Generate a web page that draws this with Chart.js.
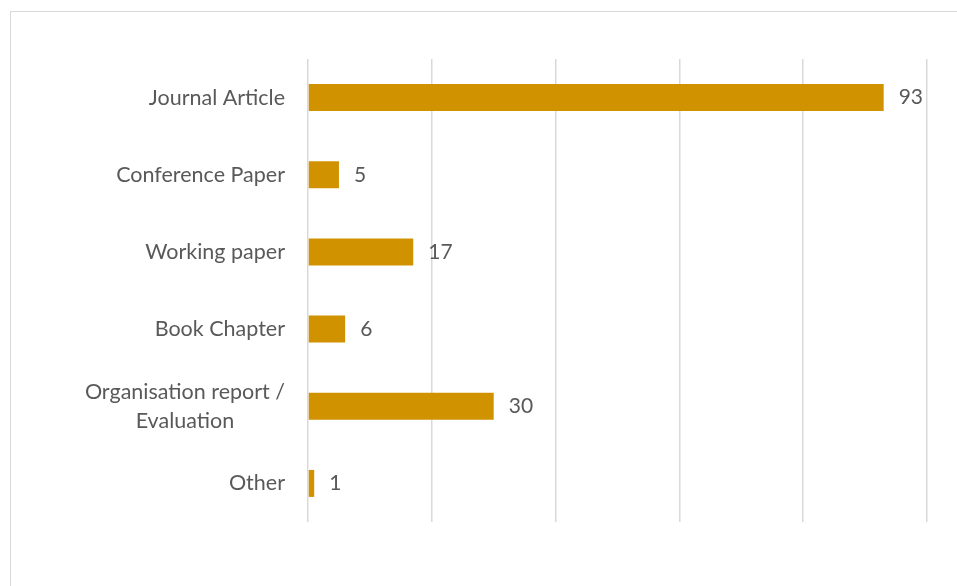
<!DOCTYPE html>
<html>
<head>
<meta charset="utf-8">
<script src="https://cdn.jsdelivr.net/npm/chart.js@4/dist/chart.umd.min.js"></script>
<style>
  html, body { margin: 0; padding: 0; background: #fff; overflow: hidden; }
  #wrap { position: relative; width: 957px; height: 586px; }
  #frame { position: absolute; left: 10px; top: 11px; width: 1000px; height: 700px; border: 1.5px solid #d9d9d9; }
  canvas { position: absolute; left: 0; top: 0; }
</style>
</head>
<body>
<div id="wrap">
  <div id="frame"></div>
  <canvas id="chart" width="957" height="586"></canvas>
</div>
<script>
const categories = [
  ['Journal Article'],
  ['Conference Paper'],
  ['Working paper'],
  ['Book Chapter'],
  ['Organisation report /', 'Evaluation'],
  ['Other']
];
const counts = [93, 5, 17, 6, 30, 1];
const xTicks = [0, 20, 40, 60, 80, 100];

const catFont = '21.5px Lato, Carlito, Calibri, sans-serif';
const valueFont = '21px Lato, Carlito, Calibri, sans-serif';
const textColor = '#595959';

// draws the category names and the value at the end of each bar
const labelPlugin = {
  id: 'labelPlugin',
  afterDatasetsDraw(chart) {
    const ctx = chart.ctx;
    const yScale = chart.scales.y;
    const meta = chart.getDatasetMeta(0);
    ctx.save();
    ctx.font = catFont;
    ctx.fillStyle = textColor;
    ctx.textBaseline = 'middle';
    const rightEdge = yScale.right - 23;
    categories.forEach((lines, i) => {
      const y = yScale.getPixelForValue(i);
      const lineHeight = 29;
      if (lines.length === 1) {
        ctx.textAlign = 'right';
        ctx.fillText(lines[0], rightEdge, y);
      } else {
        const widest = Math.max(...lines.map((l) => ctx.measureText(l).width));
        const center = rightEdge - widest / 2;
        ctx.textAlign = 'center';
        lines.forEach((l, j) => {
          ctx.fillText(l, center, y + (j - (lines.length - 1) / 2) * lineHeight);
        });
      }
    });
    ctx.font = valueFont;
    ctx.textAlign = 'left';
    meta.data.forEach((bar, i) => {
      ctx.fillText(String(counts[i]), bar.x + 15, bar.y);
    });
    ctx.restore();
  }
};

new Chart(document.getElementById('chart'), {
  type: 'bar',
  data: {
    labels: categories.map((c) => c.join(' ')),
    datasets: [
      {
        data: counts,
        backgroundColor: '#D19200',
        borderWidth: 0,
        barPercentage: 0.35,
        categoryPercentage: 1,
      },
    ],
  },
  options: {
    indexAxis: 'y',
    responsive: false,
    animation: false,
    layout: { padding: { top: 59, right: 30, left: 0, bottom: 0 } },
    plugins: {
      legend: { display: false },
      tooltip: { enabled: false },
    },
    scales: {
      x: {
        min: 0,
        max: 100,
        afterBuildTicks(scale) {
          scale.ticks = xTicks.map((v) => ({ value: v }));
        },
        afterFit(scale) {
          scale.height = 64;
        },
        ticks: { display: false },
        border: { display: false },
        grid: { color: '#d9d9d9', lineWidth: 1.5, drawTicks: false },
      },
      y: {
        afterFit(scale) {
          scale.width = 308;
        },
        ticks: { display: false },
        border: { display: false },
        grid: { display: false, drawTicks: false },
      },
    },
  },
  plugins: [labelPlugin],
});
</script>
</body>
</html>
